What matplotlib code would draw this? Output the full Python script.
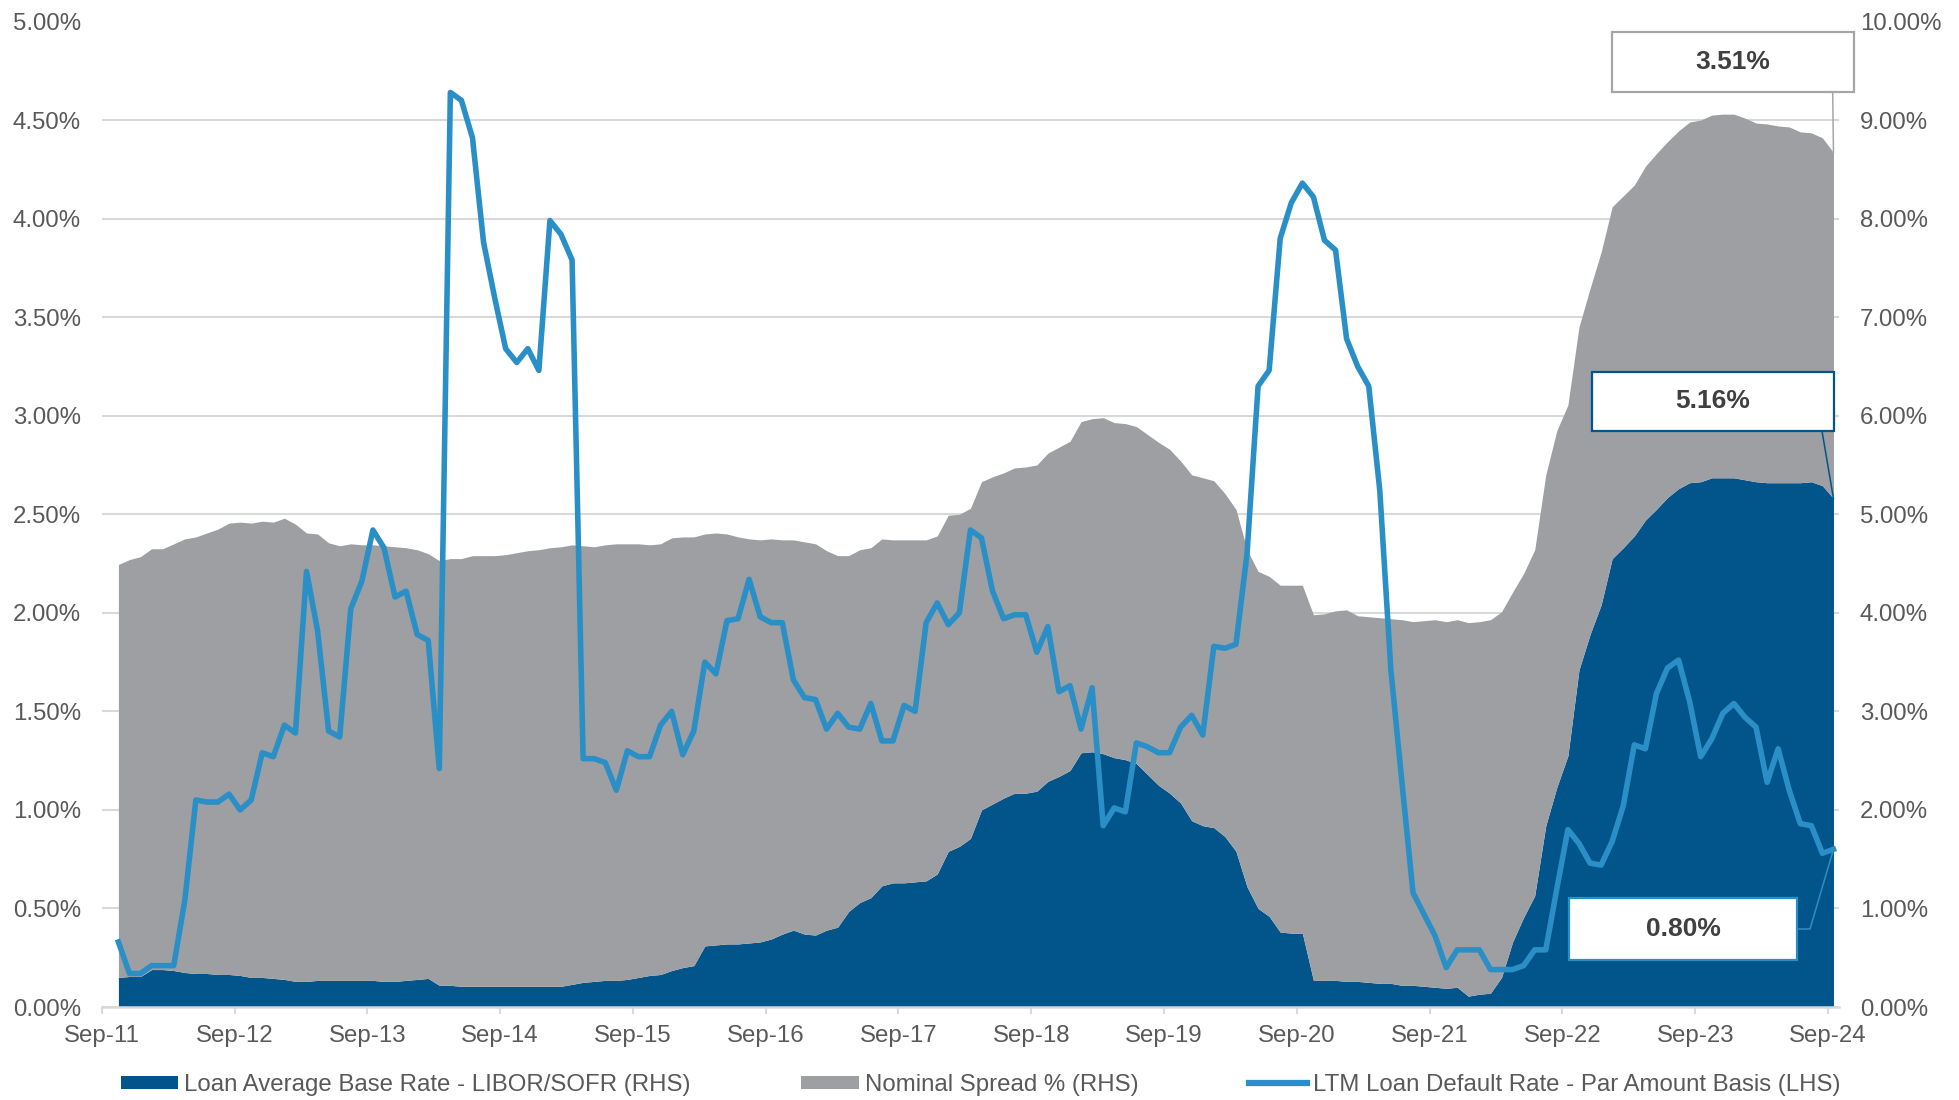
import matplotlib
matplotlib.use('Agg')
import matplotlib.pyplot as plt
import numpy as np
from matplotlib.patches import Patch, Rectangle
from matplotlib.lines import Line2D
from matplotlib.ticker import FuncFormatter

plt.rcParams['font.family'] = ['Liberation Sans', 'DejaVu Sans']

# ---------------- data (monthly, Oct-11 .. Sep-24) ----------------
tick_labels = ['Sep-11', 'Sep-12', 'Sep-13', 'Sep-14', 'Sep-15', 'Sep-16', 'Sep-17',
               'Sep-18', 'Sep-19', 'Sep-20', 'Sep-21', 'Sep-22', 'Sep-23', 'Sep-24']

base_rate = [
    0.30, 0.31, 0.31, 0.38, 0.38, 0.37, 0.35, 0.34, 0.34, 0.33, 0.33, 0.32,
    0.30, 0.30, 0.29, 0.28, 0.26, 0.26, 0.27, 0.27, 0.27, 0.27, 0.27, 0.27,
    0.26, 0.26, 0.27, 0.28, 0.29, 0.22, 0.22, 0.21, 0.21, 0.21, 0.21, 0.21,
    0.21, 0.21, 0.21, 0.21, 0.21, 0.23, 0.25, 0.26, 0.27, 0.27, 0.28, 0.30,
    0.32, 0.33, 0.37, 0.40, 0.42, 0.62, 0.63, 0.64, 0.64, 0.65, 0.66, 0.69,
    0.74, 0.78, 0.74, 0.73, 0.78, 0.81, 0.97, 1.06, 1.11, 1.23, 1.26, 1.26,
    1.27, 1.28, 1.35, 1.58, 1.63, 1.71, 2.00, 2.06, 2.12, 2.17, 2.17, 2.19,
    2.29, 2.34, 2.40, 2.58, 2.59, 2.57, 2.53, 2.51, 2.47, 2.36, 2.25, 2.17,
    2.07, 1.89, 1.84, 1.82, 1.73, 1.58, 1.22, 1.00, 0.92, 0.76, 0.75, 0.75,
    0.27, 0.27, 0.27, 0.26, 0.26, 0.25, 0.24, 0.24, 0.22, 0.22, 0.21, 0.20,
    0.19, 0.20, 0.11, 0.13, 0.14, 0.30, 0.66, 0.91, 1.13, 1.84, 2.23, 2.55,
    3.42, 3.78, 4.08, 4.55, 4.66, 4.78, 4.94, 5.05, 5.17, 5.26, 5.32, 5.33,
    5.37, 5.37, 5.37, 5.35, 5.33, 5.32, 5.32, 5.32, 5.32, 5.33, 5.29, 5.16,
]

nominal_spread = [
    4.19, 4.23, 4.26, 4.27, 4.27, 4.33, 4.40, 4.43, 4.47, 4.52, 4.58, 4.60,
    4.61, 4.63, 4.63, 4.68, 4.64, 4.55, 4.53, 4.44, 4.41, 4.43, 4.42, 4.42,
    4.42, 4.41, 4.39, 4.36, 4.31, 4.31, 4.33, 4.34, 4.37, 4.37, 4.37, 4.38,
    4.40, 4.42, 4.43, 4.45, 4.46, 4.46, 4.43, 4.41, 4.42, 4.43, 4.42, 4.40,
    4.37, 4.37, 4.39, 4.37, 4.35, 4.18, 4.18, 4.16, 4.13, 4.10, 4.08, 4.06,
    4.00, 3.96, 3.98, 3.97, 3.85, 3.77, 3.61, 3.58, 3.55, 3.52, 3.48, 3.48,
    3.47, 3.46, 3.43, 3.41, 3.37, 3.35, 3.33, 3.32, 3.30, 3.30, 3.31, 3.31,
    3.33, 3.34, 3.34, 3.36, 3.38, 3.41, 3.40, 3.41, 3.42, 3.45, 3.48, 3.49,
    3.47, 3.51, 3.53, 3.52, 3.48, 3.47, 3.42, 3.42, 3.45, 3.52, 3.53, 3.53,
    3.71, 3.72, 3.75, 3.77, 3.71, 3.71, 3.71, 3.70, 3.71, 3.69, 3.71, 3.73,
    3.72, 3.73, 3.79, 3.78, 3.79, 3.71, 3.55, 3.49, 3.51, 3.56, 3.62, 3.56,
    3.48, 3.51, 3.58, 3.57, 3.57, 3.56, 3.59, 3.61, 3.61, 3.63, 3.66, 3.67,
    3.68, 3.69, 3.69, 3.67, 3.64, 3.64, 3.62, 3.61, 3.56, 3.54, 3.53, 3.51,
]

default_rate = [
    0.33, 0.17, 0.17, 0.21, 0.21, 0.21, 0.54, 1.05, 1.04, 1.04, 1.08, 1.00,
    1.05, 1.29, 1.27, 1.43, 1.39, 2.21, 1.91, 1.40, 1.37, 2.02, 2.16, 2.42,
    2.33, 2.08, 2.11, 1.89, 1.86, 1.21, 4.64, 4.60, 4.41, 3.88, 3.60, 3.34,
    3.27, 3.34, 3.23, 3.99, 3.92, 3.79, 1.26, 1.26, 1.24, 1.10, 1.30, 1.27,
    1.27, 1.43, 1.50, 1.28, 1.40, 1.75, 1.69, 1.96, 1.97, 2.17, 1.98, 1.95,
    1.95, 1.66, 1.57, 1.56, 1.41, 1.49, 1.42, 1.41, 1.54, 1.35, 1.35, 1.53,
    1.50, 1.95, 2.05, 1.94, 2.00, 2.42, 2.38, 2.11, 1.97, 1.99, 1.99, 1.80,
    1.93, 1.60, 1.63, 1.41, 1.62, 0.92, 1.01, 0.99, 1.34, 1.32, 1.29, 1.29,
    1.42, 1.48, 1.38, 1.83, 1.82, 1.84, 2.30, 3.15, 3.23, 3.90, 4.08, 4.18,
    4.11, 3.89, 3.84, 3.39, 3.25, 3.15, 2.62, 1.71, 1.14, 0.58, 0.47, 0.36,
    0.20, 0.29, 0.29, 0.29, 0.19, 0.19, 0.19, 0.21, 0.29, 0.29, 0.60, 0.90,
    0.83, 0.73, 0.72, 0.84, 1.02, 1.33, 1.31, 1.59, 1.72, 1.76, 1.55, 1.27,
    1.36, 1.49, 1.54, 1.47, 1.42, 1.14, 1.31, 1.10, 0.93, 0.92, 0.78, 0.80,
]

legend_labels = ['Loan Average Base Rate - LIBOR/SOFR (RHS)',
                 'Nominal Spread % (RHS)',
                 'LTM Loan Default Rate - Par Amount Basis (LHS)']

# ---------------- styles ----------------
DARK = '#02558B'
GRAY = '#9D9FA2'
BLUE = '#2B8FC7'
GRID = '#D9D9D9'
TXT = '#595959'
FS = 17.3

n = len(base_rate)
x = np.arange(1, n + 1) + 0.5          # mid-month position, months since Sep-11
base = np.array(base_rate)
total = base + np.array(nominal_spread)

W, H = 1959, 1100
fig = plt.figure(figsize=(W / 100, H / 100), dpi=100)
ax = fig.add_axes([101.8 / W, 1 - 1007 / H, (1839 - 101.8) / W, (1007 - 21.5) / H])
ax2 = ax.twinx()

# stacked areas on right-hand axis
ax.fill_between(x, 0, base, color=DARK, lw=0, zorder=2)
ax.fill_between(x, base, total, color=GRAY, lw=0, zorder=2)
ax.set_xlim(0, 157)
ax.set_ylim(0, 10)
ax.set_yticks(np.arange(0, 11, 1))
ax.yaxis.set_major_formatter(FuncFormatter(lambda v, p: f'{v:.2f}%'))
ax.grid(axis='y', color=GRID, lw=1.5, zorder=0)
ax.set_axisbelow(True)
for s in ['top', 'left', 'right']:
    ax.spines[s].set_visible(False)
ax.spines['bottom'].set_color(GRID)
ax.spines['bottom'].set_linewidth(1.8)
ax.spines['bottom'].set_zorder(5)
ax.set_xticks(np.arange(0, 157, 12))
ax.set_xticklabels(tick_labels)
ax.tick_params(axis='x', length=5, width=1.5, color=GRID, pad=8,
               labelsize=FS, labelcolor=TXT)

# default-rate line on left-hand axis
ax2.plot(x, default_rate, color=BLUE, lw=4.0, zorder=3)
ax2.set_ylim(0, 5)
ax2.set_yticks(np.arange(0, 5.01, 0.5))
ax2.yaxis.set_major_formatter(FuncFormatter(lambda v, p: f'{v:.2f}%'))
for s in ax2.spines.values():
    s.set_visible(False)

# axis sides: area axis labels on the right, line axis labels on the left
ax.yaxis.tick_right()
ax2.yaxis.tick_left()
ax.tick_params(axis='y', which='both', left=False, labelleft=False, right=False,
               labelright=True, length=0, pad=15, labelsize=FS, labelcolor=TXT)
ax2.tick_params(axis='y', which='both', right=False, labelright=False, left=False,
                labelleft=True, length=0, pad=15, labelsize=FS, labelcolor=TXT)

# ---------------- callout boxes ----------------
def px(xp, yp):
    return (xp / W, 1 - yp / H)

def box(x0, y0, x1, y1, ec, text):
    fx0, fy1 = px(x0, y0)
    fx1, fy0 = px(x1, y1)
    fig.add_artist(Rectangle((fx0, fy0), fx1 - fx0, fy1 - fy0, transform=fig.transFigure,
                             facecolor='white', edgecolor=ec, lw=1.6, zorder=10))
    fig.text((fx0 + fx1) / 2, (fy0 + fy1) / 2, text, ha='center', va='center',
             fontsize=19, fontweight='bold', color='#404040', zorder=11)

def leader(points_px, data_pt, axis, color):
    fig.canvas.draw()
    dx, dy = axis.transData.transform(data_pt)
    xs = [p[0] / W for p in points_px] + [dx / fig.bbox.width]
    ys = [1 - p[1] / H for p in points_px] + [dy / fig.bbox.height]
    fig.add_artist(Line2D(xs, ys, transform=fig.transFigure, color=color, lw=1.1, zorder=9))

last_x = x[-1]
leader([(1832.7, 92)], (last_x, total[-1]), ax, '#A6A6A6')
box(1612, 32, 1854, 92, '#A6A6A6', f'{nominal_spread[-1]:.2f}%')

leader([(1822, 431)], (last_x, base[-1]), ax, DARK)
box(1592, 372, 1834, 431, DARK, f'{base_rate[-1]:.2f}%')

leader([(1797, 929), (1810, 929)], (last_x, default_rate[-1]), ax2, BLUE)
box(1569, 898, 1797, 960, BLUE, f'{default_rate[-1]:.2f}%')

# ---------------- legend ----------------
handles = [Patch(facecolor=DARK, edgecolor='none'),
           Patch(facecolor=GRAY, edgecolor='none'),
           Line2D([0], [0], color=BLUE, lw=4.5)]
fig.legend(handles, legend_labels, loc='center', bbox_to_anchor=(0.5005, 15 / H),
           ncol=3, frameon=False, fontsize=FS, labelcolor=TXT,
           handlelength=2.4, handleheight=0.5, handletextpad=0.25, columnspacing=4.6,
           borderaxespad=0, borderpad=0)

fig.savefig('out.png', dpi=100)
